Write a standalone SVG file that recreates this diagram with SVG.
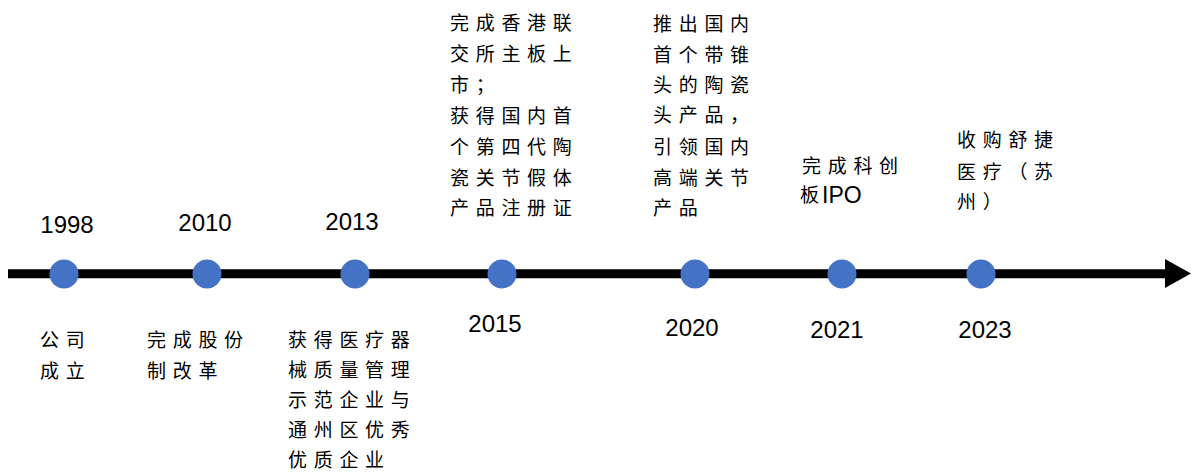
<svg xmlns="http://www.w3.org/2000/svg" width="1192" height="473" viewBox="0 0 1192 473">
  <style>
    .dot { fill: #4472C4; }
    .year { font-family: "Liberation Sans", Arial, sans-serif; font-size: 24px; fill: #000; text-anchor: middle; }
    .cn { font-family: "Noto Sans CJK SC", sans-serif; font-size: 19px; fill: #000; letter-spacing: 6.7px; }
    .tight { letter-spacing: 0; }
    .lat { font-family: "Liberation Sans", Arial, sans-serif; font-size: 23px; letter-spacing: 0; }
  </style>
  <rect width="1192" height="473" fill="#fff"/>
  <g id="connectors">
    <line x1="8" y1="273.8" x2="1166" y2="273.8" stroke="#000" stroke-width="9"/>
    <polygon points="1165,259 1191,273.5 1165,288" fill="#000"/>
  </g>
  <g id="n1998">
    <circle class="dot" cx="64" cy="274" r="14.5"/>
    <text class="year" x="67" y="233">1998</text>
    <text class="cn" x="40" y="347">公司<tspan x="40" y="378">成立</tspan></text>
  </g>
  <g id="n2010">
    <circle class="dot" cx="207" cy="274" r="14.5"/>
    <text class="year" x="205" y="231">2010</text>
    <text class="cn" x="147" y="347">完成股份<tspan x="147" y="378">制改革</tspan></text>
  </g>
  <g id="n2013">
    <circle class="dot" cx="355" cy="274" r="14.5"/>
    <text class="year" x="352" y="230">2013</text>
    <text class="cn" x="288" y="347">获得医疗器<tspan x="288" y="377">械质量管理</tspan><tspan x="288" y="407">示范企业与</tspan><tspan x="288" y="437">通州区优秀</tspan><tspan x="288" y="467">优质企业</tspan></text>
  </g>
  <g id="n2015">
    <circle class="dot" cx="502" cy="274" r="14.5"/>
    <text class="year" x="495" y="332">2015</text>
    <text class="cn" x="450" y="30">完成香港联<tspan x="450" y="61">交所主板上</tspan><tspan x="450" y="92">市；</tspan><tspan x="450" y="123">获得国内首</tspan><tspan x="450" y="154">个第四代陶</tspan><tspan x="450" y="185">瓷关节假体</tspan><tspan x="450" y="215">产品注册证</tspan></text>
  </g>
  <g id="n2020">
    <circle class="dot" cx="695" cy="274" r="14.5"/>
    <text class="year" x="692" y="336">2020</text>
    <text class="cn" x="653" y="31">推出国内<tspan x="653" y="62">首个带锥</tspan><tspan x="653" y="92">头的陶瓷</tspan><tspan x="653" y="122">头产品，</tspan><tspan x="653" y="154">引领国内</tspan><tspan x="653" y="185">高端关节</tspan><tspan x="653" y="215">产品</tspan></text>
  </g>
  <g id="n2021">
    <circle class="dot" cx="842" cy="274" r="14.5"/>
    <text class="year" x="837" y="338">2021</text>
    <text class="cn" x="802" y="173">完成科创<tspan class="tight" x="800" y="202">板</tspan><tspan class="lat" x="822" y="203">IPO</tspan></text>
  </g>
  <g id="n2023">
    <circle class="dot" cx="981" cy="274" r="14.5"/>
    <text class="year" x="985" y="338">2023</text>
    <text class="cn" x="957" y="147">收购舒捷<tspan x="957" y="179">医疗（苏</tspan><tspan x="957" y="209">州）</tspan></text>
  </g>
</svg>
